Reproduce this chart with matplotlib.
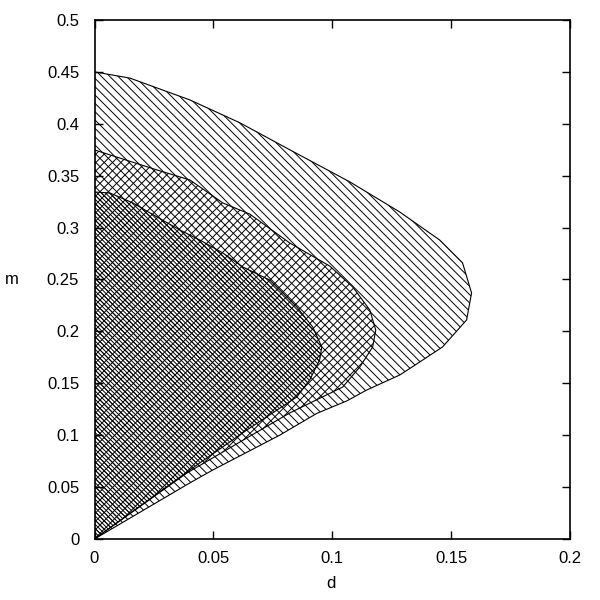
import matplotlib
matplotlib.use("Agg")
import matplotlib.pyplot as plt

plt.rcParams['font.family'] = ['Liberation Sans', 'DejaVu Sans']
plt.rcParams['hatch.linewidth'] = 0.7

# boundary points (d, m), going round each region
outer_d = [0, 0.0149, 0.0401, 0.0611, 0.0821, 0.1074, 0.1284, 0.1452, 0.1548, 0.1586,
           0.1565, 0.1464, 0.1338, 0.1284, 0.1145, 0.1061, 0.0935, 0.0779, 0.0498, 0.0401, 0]
outer_m = [0.45, 0.444, 0.423, 0.401, 0.375, 0.344, 0.315, 0.288, 0.266, 0.237,
           0.211, 0.185, 0.166, 0.158, 0.1435, 0.133, 0.121, 0.1, 0.0665, 0.054, 0]

mid_d = [0, 0.0263, 0.0401, 0.054, 0.0653, 0.0821, 0.0989, 0.1086, 0.1158, 0.1183,
         0.117, 0.1116, 0.1044, 0.0821, 0.0569, 0.0389, 0]
mid_m = [0.3748, 0.3555, 0.3459, 0.3237, 0.313, 0.2852, 0.263, 0.2428, 0.2206, 0.2013,
         0.185, 0.1657, 0.1464, 0.1214, 0.0877, 0.0636, 0]

inner_d = [0, 0.0065, 0.0162, 0.0263, 0.0359, 0.0443, 0.054, 0.0624, 0.0737, 0.0851,
           0.0918, 0.0956, 0.0947, 0.0905, 0.0851, 0.0641, 0.0401, 0]
inner_m = [0.3343, 0.3333, 0.3237, 0.3102, 0.2977, 0.288, 0.2755, 0.262, 0.2495, 0.2235,
           0.2042, 0.185, 0.1724, 0.1532, 0.1368, 0.105, 0.0665, 0]

xticks = [0, 0.05, 0.1, 0.15, 0.2]
yticks = [0, 0.05, 0.1, 0.15, 0.2, 0.25, 0.3, 0.35, 0.4, 0.45, 0.5]

fig = plt.figure(figsize=(6, 6), dpi=100)
ax = fig.add_axes([0.1575, 0.1017, 0.7925, 0.865])

ax.fill(outer_d, outer_m, facecolor='none', edgecolor='black', hatch='\\\\\\\\', linewidth=0.8)
ax.fill(mid_d, mid_m, facecolor='none', edgecolor='black', hatch='////', linewidth=0.8)
ax.fill(inner_d, inner_m, facecolor='none', edgecolor='black', hatch='\\' * 8, linewidth=0.8)

ax.set_xlim(0, 0.2)
ax.set_ylim(0, 0.5)
ax.set_xticks(xticks)
ax.set_xticklabels(['%g' % v for v in xticks])
ax.set_yticks(yticks)
ax.set_yticklabels(['%g' % v for v in yticks])
ax.tick_params(direction='in', length=6, width=1, top=True, right=True, labelsize=12, colors='black')
ax.tick_params(axis='y', pad=11)
ax.tick_params(axis='x', pad=9)
for s in ax.spines.values():
    s.set_linewidth(1.2)

fig.text(12 / 600, 1 - 279 / 600, 'm', fontsize=12, ha='center', va='center')
fig.text(331 / 600, 1 - 583 / 600, 'd', fontsize=12, ha='center', va='center')

fig.savefig('out.png', dpi=100)
